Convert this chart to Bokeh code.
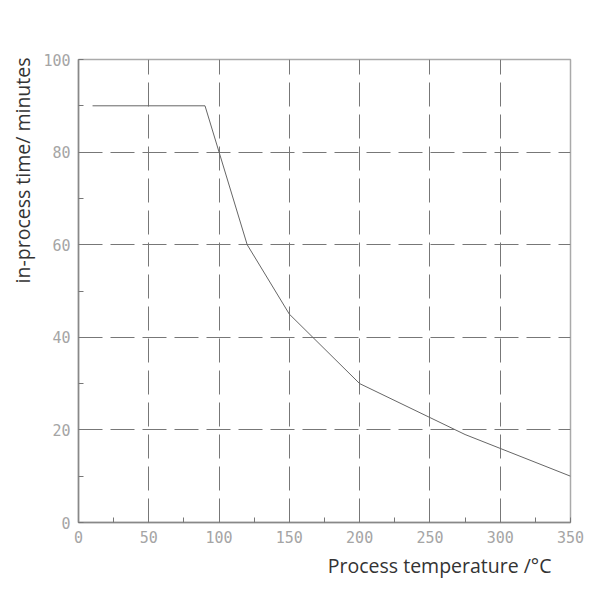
from bokeh.plotting import figure
from bokeh.models import Range1d, SingleIntervalTicker, Title
from bokeh.embed import file_html
from bokeh.resources import INLINE

# Data
temperature = [10, 90, 120, 150, 200, 275, 350]
process_time = [90, 90, 60, 45, 30, 19, 10]

x_label_text = "Process temperature /°C"
y_label_text = "in-process time/ minutes"

p = figure(width=600, height=600, output_backend="svg", toolbar_location=None,
           x_range=Range1d(0, 350), y_range=Range1d(0, 100),
           min_border_left=78, min_border_right=30,
           min_border_top=59, min_border_bottom=78)

p.background_fill_color = "white"
p.border_fill_color = "white"
p.outline_line_color = "#aaaaaa"
p.outline_line_width = 1.5

p.xaxis.ticker = SingleIntervalTicker(interval=50, num_minor_ticks=2)
p.yaxis.ticker = SingleIntervalTicker(interval=20, num_minor_ticks=2)

for ax in (p.xaxis[0], p.yaxis[0]):
    ax.axis_line_color = "#888888"
    ax.axis_line_width = 1.5
    ax.major_tick_in = 0
    ax.major_tick_out = 0
    ax.minor_tick_in = 5
    ax.minor_tick_out = 0
    ax.minor_tick_line_color = "#777777"
    ax.major_label_standoff = 8
    ax.major_label_text_font = "DejaVu Sans Mono"
    ax.major_label_text_font_size = "15px"
    ax.major_label_text_color = "#a5a5a5"

for g in (p.xgrid[0], p.ygrid[0]):
    g.grid_line_color = "#777777"
    g.grid_line_width = 1
    g.grid_line_dash = "24 8"

p.line(temperature, process_time, line_color="#666666", line_width=1)

xt = Title(text=x_label_text, align="right", offset=19, standoff=8,
           text_font="Open Sans", text_font_size="19.5px",
           text_font_style="normal", text_color="#333333")
yt = Title(text=y_label_text, align="right", offset=-2, standoff=10,
           text_font="Open Sans", text_font_size="19.5px",
           text_font_style="normal", text_color="#333333")
p.add_layout(xt, "below")
p.add_layout(yt, "left")

open("out.html", "w").write(file_html(p, INLINE))
